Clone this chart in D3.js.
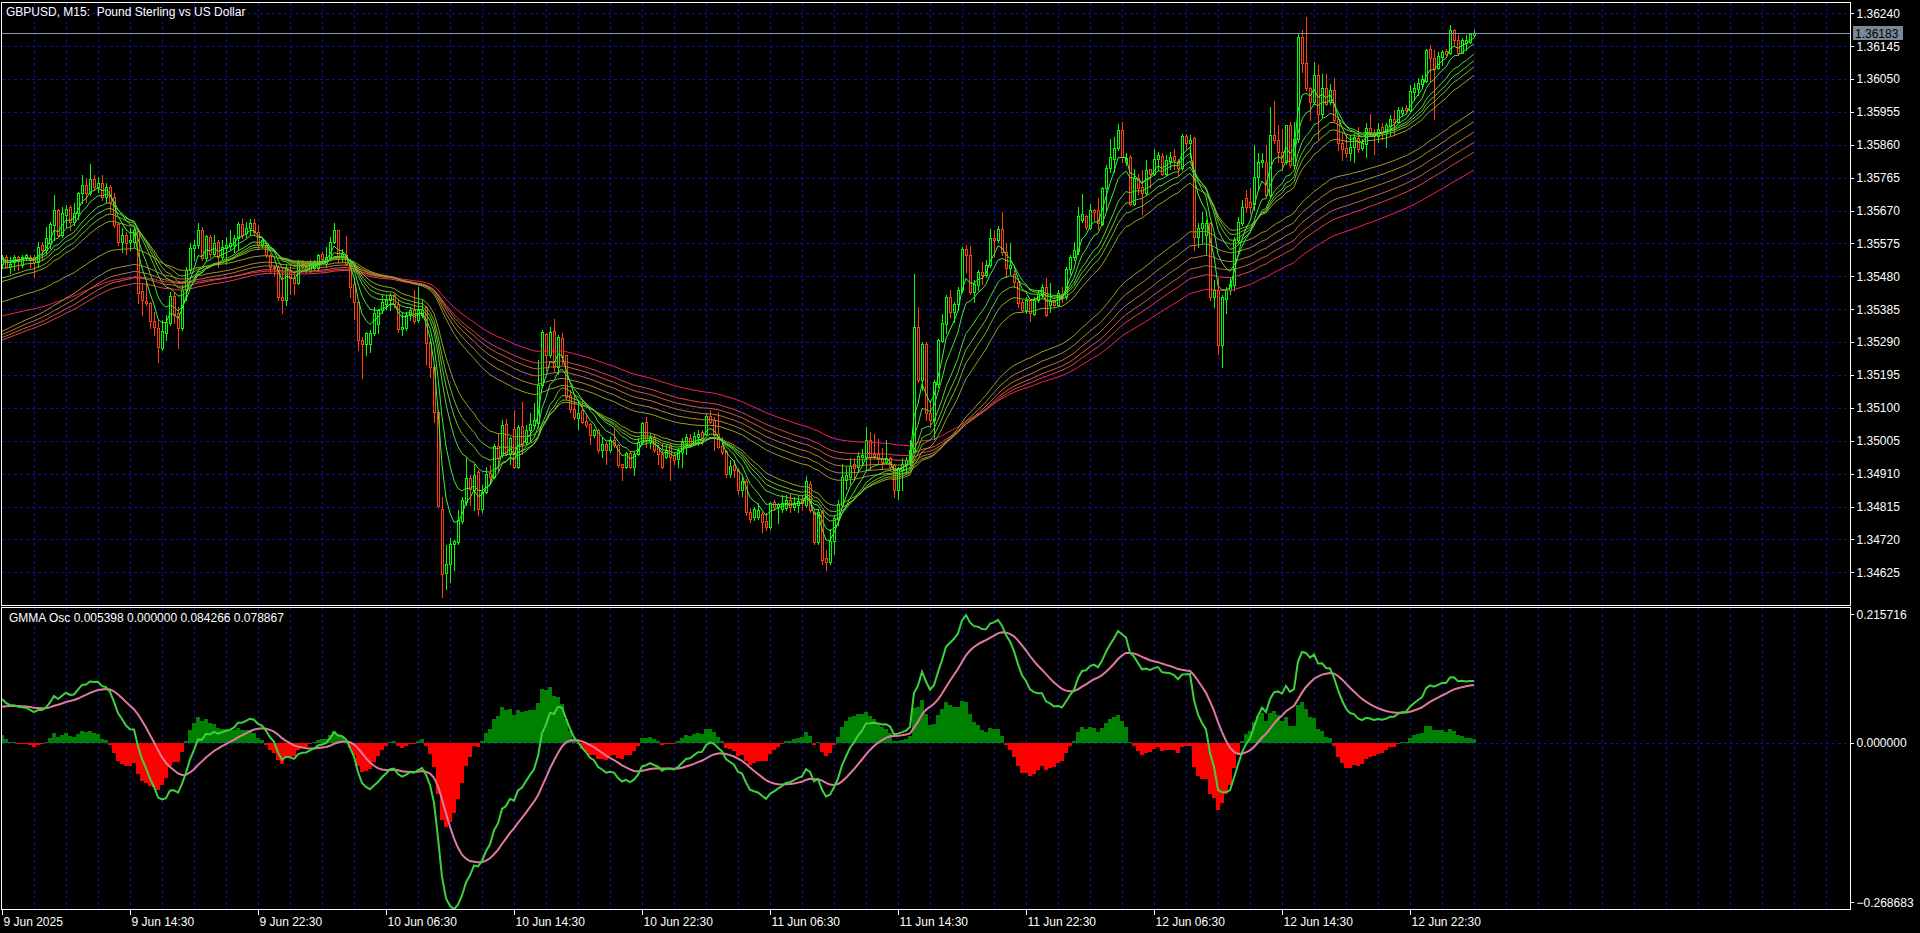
<!DOCTYPE html>
<html><head><meta charset="utf-8">
<script src="https://cdn.jsdelivr.net/npm/d3@7"></script>
<style>html,body{margin:0;padding:0;background:#000;overflow:hidden}svg{display:block}</style>
</head><body><svg id="c" width="1920" height="933"></svg>
<script>
// ---------------- DATA ----------------
const symbolTitle = "GBPUSD, M15:  Pound Sterling vs US Dollar";
const oscName = "GMMA Osc";
const oscLegendValues = [0.005398, 0.000000, 0.084266, 0.078867];
const firstBarTime = "9 Jun 2025 06:30";   // bar 0, 15-minute bars
// [open, high, low, close] per 15-minute bar, bar 0 .. 368
const ohlc = [
/*0*/[1.35515,1.35542,1.35505,1.35537],[1.35537,1.35542,1.35506,1.35508],[1.35510,1.35537,1.35489,1.35517],[1.35522,1.35542,1.35498,1.35537],[1.35537,1.35539,1.35498,1.35527],[1.35513,1.35542,1.35508,1.35537],[1.35532,1.35545,1.35527,1.35542],[1.35537,1.35542,1.35508,1.35527],
/*8*/[1.35537,1.35542,1.35479,1.35522],[1.35522,1.35580,1.35508,1.35564],[1.35570,1.35580,1.35527,1.35556],[1.35556,1.35623,1.35546,1.35590],[1.35575,1.35638,1.35561,1.35631],[1.35628,1.35715,1.35585,1.35673],[1.35673,1.35676,1.35594,1.35599],[1.35599,1.35681,1.35594,1.35662],
/*16*/[1.35657,1.35686,1.35623,1.35676],[1.35681,1.35686,1.35614,1.35638],[1.35638,1.35691,1.35628,1.35662],[1.35662,1.35724,1.35647,1.35720],[1.35720,1.35773,1.35691,1.35744],[1.35744,1.35763,1.35696,1.35722],[1.35720,1.35804,1.35715,1.35760],[1.35760,1.35773,1.35729,1.35739],
/*24*/[1.35739,1.35768,1.35724,1.35751],[1.35751,1.35773,1.35700,1.35710],[1.35710,1.35749,1.35696,1.35737],[1.35737,1.35744,1.35667,1.35696],[1.35710,1.35720,1.35623,1.35628],[1.35631,1.35638,1.35570,1.35580],[1.35580,1.35619,1.35551,1.35599],[1.35599,1.35609,1.35546,1.35575],
/*32*/[1.35580,1.35619,1.35556,1.35585],[1.35580,1.35619,1.35566,1.35614],[1.35612,1.35614,1.35402,1.35433],[1.35438,1.35460,1.35368,1.35412],[1.35410,1.35465,1.35397,1.35402],[1.35402,1.35407,1.35330,1.35352],[1.35350,1.35378,1.35310,1.35335],[1.35330,1.35354,1.35233,1.35275],
/*40*/[1.35272,1.35354,1.35267,1.35322],[1.35317,1.35368,1.35296,1.35349],[1.35344,1.35436,1.35339,1.35423],[1.35423,1.35436,1.35344,1.35368],[1.35373,1.35392,1.35272,1.35332],[1.35332,1.35455,1.35325,1.35440],[1.35440,1.35508,1.35412,1.35498],[1.35498,1.35575,1.35489,1.35561],
/*48*/[1.35561,1.35585,1.35527,1.35570],[1.35570,1.35633,1.35561,1.35614],[1.35614,1.35623,1.35527,1.35532],[1.35532,1.35599,1.35527,1.35596],[1.35594,1.35599,1.35537,1.35546],[1.35546,1.35599,1.35542,1.35575],[1.35580,1.35585,1.35508,1.35537],[1.35537,1.35585,1.35527,1.35566],
/*56*/[1.35561,1.35594,1.35517,1.35570],[1.35568,1.35614,1.35556,1.35575],[1.35570,1.35599,1.35551,1.35590],[1.35590,1.35638,1.35556,1.35631],[1.35631,1.35647,1.35590,1.35599],[1.35604,1.35638,1.35594,1.35619],[1.35619,1.35647,1.35599,1.35633],[1.35633,1.35647,1.35599,1.35609],
/*64*/[1.35609,1.35628,1.35561,1.35570],[1.35570,1.35594,1.35565,1.35584],[1.35570,1.35575,1.35536,1.35541],[1.35541,1.35546,1.35493,1.35507],[1.35507,1.35512,1.35483,1.35503],[1.35507,1.35512,1.35411,1.35421],[1.35421,1.35507,1.35373,1.35413],[1.35413,1.35512,1.35397,1.35500],
/*72*/[1.35498,1.35517,1.35430,1.35474],[1.35474,1.35493,1.35430,1.35461],[1.35461,1.35527,1.35459,1.35520],[1.35522,1.35527,1.35503,1.35507],[1.35507,1.35512,1.35493,1.35498],[1.35496,1.35527,1.35493,1.35517],[1.35503,1.35527,1.35498,1.35522],[1.35503,1.35546,1.35498,1.35541],
/*80*/[1.35546,1.35551,1.35522,1.35529],[1.35515,1.35565,1.35507,1.35536],[1.35534,1.35594,1.35527,1.35580],[1.35580,1.35633,1.35575,1.35613],[1.35613,1.35615,1.35522,1.35536],[1.35536,1.35560,1.35522,1.35546],[1.35541,1.35596,1.35512,1.35517],[1.35517,1.35531,1.35421,1.35450],
/*88*/[1.35459,1.35479,1.35358,1.35406],[1.35406,1.35411,1.35267,1.35296],[1.35296,1.35305,1.35185,1.35284],[1.35284,1.35320,1.35252,1.35315],[1.35286,1.35324,1.35262,1.35317],[1.35317,1.35392,1.35310,1.35373],[1.35342,1.35387,1.35315,1.35382],[1.35382,1.35426,1.35373,1.35406],
/*96*/[1.35401,1.35426,1.35387,1.35411],[1.35411,1.35432,1.35382,1.35426],[1.35426,1.35432,1.35392,1.35401],[1.35401,1.35411,1.35320,1.35329],[1.35329,1.35373,1.35310,1.35334],[1.35331,1.35377,1.35324,1.35368],[1.35368,1.35392,1.35353,1.35382],[1.35382,1.35440,1.35344,1.35351],
/*104*/[1.35353,1.35450,1.35349,1.35382],[1.35368,1.35416,1.35363,1.35382],[1.35392,1.35394,1.35228,1.35288],[1.35291,1.35296,1.35190,1.35217],[1.35219,1.35223,1.35060,1.35088],[1.35088,1.35093,1.34814,1.34816],[1.34809,1.34843,1.34554,1.34621],[1.34623,1.34703,1.34578,1.34650],
/*112*/[1.34650,1.34723,1.34597,1.34708],[1.34708,1.34718,1.34631,1.34716],[1.34713,1.34804,1.34708,1.34776],[1.34774,1.34843,1.34766,1.34833],[1.34829,1.34958,1.34819,1.34896],[1.34898,1.34906,1.34819,1.34867],[1.34862,1.34939,1.34804,1.34906],[1.34915,1.34920,1.34790,1.34809],
/*120*/[1.34809,1.34877,1.34800,1.34857],[1.34857,1.34930,1.34853,1.34908],[1.34912,1.34934,1.34881,1.34901],[1.34901,1.34997,1.34896,1.34989],[1.34989,1.35026,1.34915,1.34954],[1.34963,1.35064,1.34959,1.35050],[1.35053,1.35069,1.34963,1.34968],[1.34966,1.35016,1.34939,1.35012],
/*128*/[1.35040,1.35093,1.34925,1.34930],[1.34930,1.35050,1.34925,1.35045],[1.35047,1.35117,1.34968,1.34997],[1.35002,1.35050,1.34997,1.35037],[1.35036,1.35084,1.35007,1.35053],[1.35050,1.35113,1.35045,1.35064],[1.35055,1.35238,1.35045,1.35166],[1.35166,1.35324,1.35161,1.35320],
/*136*/[1.35313,1.35315,1.35209,1.35252],[1.35252,1.35334,1.35247,1.35320],[1.35323,1.35358,1.35204,1.35219],[1.35219,1.35310,1.35199,1.35305],[1.35303,1.35315,1.35228,1.35247],[1.35252,1.35252,1.35127,1.35132],[1.35137,1.35151,1.35089,1.35098],[1.35098,1.35137,1.35069,1.35074],
/*144*/[1.35072,1.35122,1.35040,1.35084],[1.35093,1.35122,1.35055,1.35060],[1.35063,1.35079,1.35045,1.35050],[1.35053,1.35055,1.34997,1.35021],[1.35021,1.35040,1.35016,1.35036],[1.35036,1.35040,1.34973,1.34978],[1.34978,1.35016,1.34959,1.34995],[1.34997,1.35002,1.34939,1.34978],
/*152*/[1.34978,1.35016,1.34973,1.35007],[1.35007,1.35043,1.34987,1.34992],[1.34992,1.34997,1.34930,1.34934],[1.34937,1.34939,1.34891,1.34930],[1.34930,1.34973,1.34925,1.34970],[1.34970,1.34973,1.34925,1.34930],[1.34930,1.34973,1.34906,1.34968],[1.34968,1.35012,1.34963,1.35002],
/*160*/[1.35002,1.35060,1.34997,1.35055],[1.35060,1.35074,1.34987,1.35007],[1.35002,1.35026,1.34983,1.35016],[1.35016,1.35021,1.34973,1.34978],[1.34987,1.34992,1.34939,1.34968],[1.34968,1.34995,1.34925,1.34930],[1.34959,1.34997,1.34954,1.34978],[1.34994,1.34997,1.34891,1.34959],
/*168*/[1.34963,1.34973,1.34939,1.34949],[1.34951,1.34983,1.34930,1.34978],[1.34973,1.35012,1.34930,1.35002],[1.34997,1.35026,1.34968,1.35016],[1.35012,1.35026,1.34987,1.34992],[1.34995,1.35031,1.34992,1.35018],[1.35016,1.35036,1.34992,1.35026],[1.35031,1.35036,1.34997,1.35007],
/*176*/[1.35026,1.35084,1.35021,1.35076],[1.35076,1.35093,1.35055,1.35060],[1.35064,1.35074,1.34978,1.35021],[1.35026,1.35089,1.34983,1.34987],[1.34989,1.35016,1.34968,1.34973],[1.34976,1.34978,1.34901,1.34910],[1.34910,1.34949,1.34901,1.34932],[1.34934,1.34949,1.34901,1.34920],
/*184*/[1.34920,1.34925,1.34850,1.34862],[1.34862,1.34900,1.34845,1.34888],[1.34888,1.34895,1.34790,1.34800],[1.34800,1.34810,1.34770,1.34780],[1.34785,1.34814,1.34775,1.34809],[1.34785,1.34824,1.34780,1.34804],[1.34793,1.34800,1.34742,1.34771],[1.34772,1.34795,1.34746,1.34756],
/*192*/[1.34756,1.34828,1.34751,1.34826],[1.34828,1.34833,1.34804,1.34814],[1.34814,1.34824,1.34766,1.34821],[1.34809,1.34848,1.34800,1.34824],[1.34812,1.34848,1.34804,1.34835],[1.34835,1.34852,1.34800,1.34814],[1.34814,1.34843,1.34804,1.34826],[1.34819,1.34845,1.34800,1.34831],
/*200*/[1.34833,1.34848,1.34804,1.34824],[1.34819,1.34902,1.34814,1.34889],[1.34880,1.34890,1.34800,1.34804],[1.34800,1.34804,1.34708,1.34713],[1.34713,1.34809,1.34708,1.34800],[1.34802,1.34804,1.34650,1.34660],[1.34665,1.34689,1.34631,1.34655],[1.34655,1.34751,1.34650,1.34716],
/*208*/[1.34716,1.34790,1.34679,1.34783],[1.34780,1.34833,1.34761,1.34822],[1.34819,1.34939,1.34814,1.34901],[1.34891,1.34930,1.34867,1.34905],[1.34901,1.34954,1.34881,1.34931],[1.34937,1.34954,1.34891,1.34925],[1.34930,1.34973,1.34920,1.34960],[1.34958,1.34980,1.34939,1.34963],
/*216*/[1.34958,1.35045,1.34920,1.35007],[1.35007,1.35031,1.34920,1.34958],[1.34968,1.35024,1.34954,1.34960],[1.34966,1.35011,1.34939,1.34951],[1.34954,1.34985,1.34925,1.34944],[1.34944,1.35007,1.34939,1.34956],[1.34954,1.34958,1.34920,1.34930],[1.34934,1.34939,1.34843,1.34862],
/*224*/[1.34862,1.34930,1.34838,1.34925],[1.34920,1.34954,1.34862,1.34939],[1.34934,1.34958,1.34910,1.34949],[1.34947,1.35007,1.34939,1.34978],[1.34976,1.35488,1.34973,1.35334],[1.35334,1.35392,1.35175,1.35180],[1.35180,1.35291,1.35151,1.35286],[1.35286,1.35291,1.35064,1.35084],
/*232*/[1.35084,1.35117,1.35045,1.35064],[1.35064,1.35180,1.35011,1.35175],[1.35170,1.35300,1.35161,1.35295],[1.35293,1.35372,1.35291,1.35344],[1.35342,1.35425,1.35315,1.35419],[1.35419,1.35442,1.35363,1.35377],[1.35377,1.35406,1.35348,1.35401],[1.35399,1.35450,1.35382,1.35442],
/*240*/[1.35440,1.35565,1.35435,1.35560],[1.35560,1.35570,1.35493,1.35541],[1.35541,1.35567,1.35430,1.35435],[1.35435,1.35469,1.35406,1.35457],[1.35454,1.35498,1.35440,1.35492],[1.35492,1.35522,1.35459,1.35483],[1.35483,1.35527,1.35478,1.35514],[1.35512,1.35618,1.35507,1.35592],
/*248*/[1.35592,1.35613,1.35536,1.35584],[1.35584,1.35625,1.35580,1.35618],[1.35618,1.35666,1.35541,1.35551],[1.35551,1.35575,1.35479,1.35503],[1.35503,1.35575,1.35488,1.35512],[1.35488,1.35498,1.35450,1.35464],[1.35464,1.35474,1.35392,1.35403],[1.35406,1.35411,1.35377,1.35384],
/*256*/[1.35384,1.35421,1.35373,1.35413],[1.35413,1.35416,1.35351,1.35373],[1.35371,1.35419,1.35368,1.35413],[1.35413,1.35440,1.35406,1.35430],[1.35425,1.35459,1.35421,1.35450],[1.35450,1.35474,1.35365,1.35368],[1.35397,1.35461,1.35377,1.35409],[1.35409,1.35413,1.35394,1.35397],
/*264*/[1.35397,1.35440,1.35394,1.35432],[1.35430,1.35450,1.35406,1.35421],[1.35421,1.35507,1.35416,1.35500],[1.35500,1.35541,1.35488,1.35536],[1.35536,1.35580,1.35527,1.35556],[1.35554,1.35681,1.35546,1.35654],[1.35642,1.35719,1.35637,1.35660],[1.35654,1.35657,1.35618,1.35623],
/*272*/[1.35621,1.35690,1.35618,1.35671],[1.35673,1.35676,1.35642,1.35666],[1.35671,1.35705,1.35618,1.35633],[1.35631,1.35739,1.35628,1.35734],[1.35734,1.35801,1.35671,1.35794],[1.35794,1.35878,1.35782,1.35825],[1.35820,1.35883,1.35782,1.35852],[1.35852,1.35921,1.35844,1.35902],
/*280*/[1.35902,1.35926,1.35811,1.35825],[1.35811,1.35835,1.35801,1.35823],[1.35825,1.35830,1.35686,1.35690],[1.35690,1.35791,1.35686,1.35763],[1.35763,1.35777,1.35719,1.35734],[1.35737,1.35787,1.35661,1.35721],[1.35721,1.35816,1.35714,1.35787],[1.35789,1.35791,1.35739,1.35777],
/*288*/[1.35777,1.35849,1.35772,1.35820],[1.35818,1.35840,1.35787,1.35830],[1.35827,1.35837,1.35772,1.35777],[1.35777,1.35830,1.35772,1.35816],[1.35814,1.35840,1.35791,1.35825],[1.35827,1.35849,1.35791,1.35816],[1.35814,1.35820,1.35772,1.35794],[1.35794,1.35891,1.35787,1.35885],
/*296*/[1.35885,1.35891,1.35849,1.35864],[1.35864,1.35888,1.35825,1.35875],[1.35881,1.35883,1.35556,1.35594],[1.35594,1.35633,1.35565,1.35621],[1.35621,1.35666,1.35575,1.35635],[1.35599,1.35642,1.35546,1.35633],[1.35633,1.35637,1.35411,1.35421],[1.35421,1.35469,1.35392,1.35440],
/*304*/[1.35440,1.35474,1.35257,1.35281],[1.35281,1.35425,1.35219,1.35419],[1.35416,1.35450,1.35373,1.35440],[1.35440,1.35479,1.35430,1.35459],[1.35454,1.35594,1.35440,1.35584],[1.35584,1.35652,1.35575,1.35637],[1.35633,1.35700,1.35628,1.35681],[1.35705,1.35729,1.35666,1.35681],
/*312*/[1.35695,1.35734,1.35662,1.35681],[1.35690,1.35859,1.35671,1.35768],[1.35768,1.35835,1.35729,1.35811],[1.35811,1.35835,1.35796,1.35816],[1.35811,1.35859,1.35710,1.35715],[1.35715,1.35970,1.35710,1.35888],[1.35888,1.35987,1.35864,1.35873],[1.35873,1.35917,1.35811,1.35840],
/*320*/[1.35840,1.35907,1.35787,1.35811],[1.35811,1.35917,1.35806,1.35917],[1.35917,1.35926,1.35796,1.35801],[1.35801,1.35926,1.35796,1.35878],[1.35878,1.36184,1.35869,1.36172],[1.36172,1.36191,1.36071,1.36095],[1.36095,1.36230,1.36018,1.36023],[1.36023,1.36028,1.35931,1.35984],
/*328*/[1.35984,1.36100,1.35979,1.36061],[1.36061,1.36090,1.35873,1.35949],[1.35949,1.36066,1.35941,1.36023],[1.36023,1.36066,1.35974,1.35979],[1.35984,1.36037,1.35979,1.36018],[1.36018,1.36052,1.35926,1.35931],[1.35936,1.35941,1.35845,1.35864],[1.35866,1.35898,1.35816,1.35849],
/*336*/[1.35852,1.35888,1.35825,1.35837],[1.35837,1.35888,1.35816,1.35854],[1.35854,1.35895,1.35811,1.35883],[1.35880,1.35912,1.35840,1.35849],[1.35852,1.35878,1.35845,1.35866],[1.35862,1.35922,1.35825,1.35910],[1.35910,1.35950,1.35888,1.35891],[1.35893,1.35907,1.35833,1.35885],
/*344*/[1.35885,1.35922,1.35869,1.35907],[1.35912,1.35922,1.35878,1.35898],[1.35898,1.35924,1.35854,1.35917],[1.35914,1.35946,1.35888,1.35936],[1.35936,1.35960,1.35888,1.35926],[1.35926,1.35970,1.35922,1.35962],[1.35952,1.35968,1.35946,1.35962],[1.35965,1.35974,1.35955,1.35960],
/*352*/[1.35960,1.36032,1.35955,1.36016],[1.36013,1.36039,1.35989,1.36023],[1.36020,1.36052,1.36003,1.36039],[1.36035,1.36061,1.36028,1.36049],[1.36045,1.36138,1.36042,1.36135],[1.36138,1.36148,1.36042,1.36112],[1.36112,1.36133,1.35936,1.36080],[1.36083,1.36129,1.36080,1.36116],
/*360*/[1.36114,1.36133,1.36090,1.36129],[1.36132,1.36138,1.36119,1.36122],[1.36124,1.36206,1.36122,1.36191],[1.36191,1.36196,1.36148,1.36162],[1.36162,1.36177,1.36119,1.36126],[1.36126,1.36170,1.36124,1.36164],[1.36153,1.36177,1.36133,1.36162],[1.36158,1.36182,1.36153,1.36180],
/*368*/[1.36177,1.36191,1.36172,1.36183]
];
const timeTickBars = [0,32,64,96,128,160,192,224,256,288,320,352];
const timeTickLabels = ["9 Jun 2025","9 Jun 14:30","9 Jun 22:30","10 Jun 06:30","10 Jun 14:30","10 Jun 22:30","11 Jun 06:30","11 Jun 14:30","11 Jun 22:30","12 Jun 06:30","12 Jun 14:30","12 Jun 22:30"];
const priceTicks = [1.36240,1.36145,1.36050,1.35955,1.35860,1.35765,1.35670,1.35575,1.35480,1.35385,1.35290,1.35195,1.35100,1.35005,1.34910,1.34815,1.34720,1.34625];
const oscTicks = [0.215716, 0.000000, -0.268683];
// chart lines: smoothed moving averages (short group then long group), value just before bar 0
const maPeriods = [3,5,8,10,12,15,30,35,40,45,50,60];
const maSeed    = [1.35525,1.35530,1.35520,1.35500,1.35470,1.35460,1.35402,1.35315,1.35306,1.35298,1.35291,1.35363];
const maColors  = ["#33ff33","#40ea30","#52d82c","#66c828","#78b824","#8aa820","#9a9a22","#aa8a2c","#ba7434","#ca5e3c","#da4444","#ee2250"];
// oscillator: exponential averages of the same periods, value just before bar 0
const oscEmaSeed = [1.35530,1.35530,1.35525,1.35520,1.35515,1.35505,1.35440,1.35430,1.35422,1.35415,1.35410,1.35400];
const signalPeriod = 13;
const signalSeed = 0.058;

// ---------------- LAYOUT ----------------
const W = 1920, H = 933;
const panelL = 1, panelR = 1850;
const mainTop = 2, mainBot = 605;
const oscTop = 607, oscBot = 909;
const gridColor = "#0c0ca8";
const fontFam = "'Liberation Sans', Arial, sans-serif";

const svg = d3.select("#c");
svg.append("rect").attr("width", W).attr("height", H).attr("fill", "#000");

const x = d3.scaleLinear().domain([0, ohlc.length - 1]).range([2, 2 + 4 * (ohlc.length - 1)]);
const y = d3.scaleLinear().domain([1.34625, 1.36240]).range([572.3, 13.3]);
const yo = d3.scaleLinear().domain([oscTicks[2], oscTicks[0]]).range([902.3, 614.3]);

const defs = svg.append("defs");
defs.append("clipPath").attr("id", "clipMain").append("rect")
  .attr("x", panelL + 1).attr("y", mainTop + 1).attr("width", panelR - panelL - 1).attr("height", mainBot - mainTop - 1);
defs.append("clipPath").attr("id", "clipOsc").append("rect")
  .attr("x", panelL + 1).attr("y", oscTop + 1).attr("width", panelR - panelL - 1).attr("height", oscBot - oscTop - 1);

// ---------------- GRID ----------------
const grid = svg.append("g").attr("stroke", gridColor).attr("stroke-width", 1).attr("stroke-dasharray", "3,3").attr("shape-rendering", "crispEdges");
const lastGridBar = Math.floor(x.invert(panelR - 2));
const gridBars = d3.range(8, lastGridBar + 1, 8);
gridBars.forEach(b => {
  const gx = Math.round(x(b)) + 0.5;
  grid.append("line").attr("x1", gx).attr("x2", gx).attr("y1", mainTop + 1).attr("y2", mainBot);
  grid.append("line").attr("x1", gx).attr("x2", gx).attr("y1", oscTop + 1).attr("y2", oscBot);
});
priceTicks.forEach(p => {
  const gy = Math.round(y(p)) + 0.5;
  grid.append("line").attr("x1", panelL + 1).attr("x2", panelR).attr("y1", gy).attr("y2", gy);
});
{
  const gy = Math.round(yo(0)) + 0.5;
  grid.append("line").attr("x1", panelL + 1).attr("x2", panelR).attr("y1", gy).attr("y2", gy);
}

// ---------------- INDICATORS ----------------
const closes = ohlc.map(d => d[3]);
const maSeries = maPeriods.map((n, j) => {
  let s = maSeed[j];
  return closes.map(c => (s = (s * (n - 1) + c) / n));
});
const emaSeries = maPeriods.map((n, j) => {
  let e = oscEmaSeed[j];
  const a = 2 / (n + 1);
  return closes.map(c => (e = e + a * (c - e)));
});
const osc = closes.map((c, i) => {
  const sh = d3.mean(emaSeries.slice(0, 6), s => s[i]);
  const lg = d3.mean(emaSeries.slice(6), s => s[i]);
  return (sh - lg) / lg * 100;
});
let sg = signalSeed;
const alpha = 2 / (signalPeriod + 1);
const signal = osc.map(v => (sg = sg + alpha * (v - sg)));
const hist = osc.map((v, i) => v - signal[i]);

// ---------------- MAIN PANEL ----------------
const main = svg.append("g").attr("clip-path", "url(#clipMain)");
const bullC = "#00ff00", bearC = "#ff4010";
const cg = main.append("g").attr("shape-rendering", "crispEdges");
ohlc.forEach((d, i) => {
  const [o, h, l, c] = d;
  const col = c >= o ? bullC : bearC;
  const cx = Math.round(x(i));
  const yh = Math.round(y(Math.max(h, o, c))), yl = Math.round(y(Math.min(l, o, c)));
  const yt = Math.round(y(Math.max(o, c))), yb = Math.round(y(Math.min(o, c)));
  cg.append("rect").attr("x", cx).attr("y", yh).attr("width", 1).attr("height", Math.max(1, yl - yh + 1)).attr("fill", col);
  const bh = Math.max(1, yb - yt + 1);
  cg.append("rect").attr("x", cx - 1).attr("y", yt).attr("width", 3).attr("height", bh).attr("fill", col);
  if (bh > 2) cg.append("rect").attr("x", cx).attr("y", yt + 1).attr("width", 1).attr("height", bh - 2).attr("fill", "#000");
});
const lineGen = d3.line().x((v, i) => x(i)).y(v => y(v));
for (let j = maSeries.length - 1; j >= 0; j--) {
  main.append("path").attr("d", lineGen(maSeries[j])).attr("fill", "none")
    .attr("stroke", maColors[j]).attr("stroke-width", 1);
}
const lastClose = closes[closes.length - 1];
svg.append("line").attr("x1", panelL + 1).attr("x2", panelR).attr("y1", Math.round(y(lastClose)) + 0.5).attr("y2", Math.round(y(lastClose)) + 0.5)
  .attr("stroke", "#8797a8").attr("stroke-width", 1).attr("shape-rendering", "crispEdges");

// ---------------- OSC PANEL ----------------
const og = svg.append("g").attr("clip-path", "url(#clipOsc)");
const hg = og.append("g").attr("shape-rendering", "crispEdges");
hist.forEach((v, i) => {
  const y0 = yo(0), y1 = yo(v);
  hg.append("rect").attr("x", Math.round(x(i)) - 2).attr("width", 4)
    .attr("y", Math.min(y0, y1)).attr("height", Math.max(1, Math.abs(y1 - y0)))
    .attr("fill", v >= 0 ? "#008000" : "#ff0000");
});
const oscLine = d3.line().x((v, i) => x(i)).y(v => yo(v));
og.append("path").attr("d", oscLine(signal)).attr("fill", "none").attr("stroke", "#e07a9c").attr("stroke-width", 2);
og.append("path").attr("d", oscLine(osc)).attr("fill", "none").attr("stroke", "#3cd23c").attr("stroke-width", 2);

// ---------------- FRAMES ----------------
const fr = svg.append("g").attr("fill", "none").attr("stroke", "#fff").attr("stroke-width", 1).attr("shape-rendering", "crispEdges");
fr.append("rect").attr("x", panelL + 0.5).attr("y", mainTop + 0.5).attr("width", panelR - panelL).attr("height", mainBot - mainTop);
fr.append("rect").attr("x", panelL + 0.5).attr("y", oscTop + 0.5).attr("width", panelR - panelL).attr("height", oscBot - oscTop);

// ---------------- AXES ----------------
const fmt5 = d3.format(".5f"), fmt6 = d3.format(".6f");
const ay = svg.append("g").attr("transform", `translate(${panelR + 0.5},0)`)
  .call(d3.axisRight(y).tickValues(priceTicks).tickFormat(fmt5).tickSize(3).tickPadding(3));
const ayo = svg.append("g").attr("transform", `translate(${panelR + 0.5},0)`)
  .call(d3.axisRight(yo).tickValues(oscTicks).tickFormat(fmt6).tickSize(3).tickPadding(3));
const ax = svg.append("g").attr("transform", `translate(0,${oscBot + 0.5})`)
  .call(d3.axisBottom(x).tickValues(timeTickBars).tickFormat((d, i) => timeTickLabels[i]).tickSize(5).tickPadding(3));
[ay, ayo, ax].forEach(a => {
  a.select(".domain").remove();
  a.selectAll(".tick line").attr("stroke", "#fff").attr("shape-rendering", "crispEdges");
  a.selectAll(".tick text").attr("fill", "#fff").attr("font-family", fontFam).attr("font-size", 12);
});
ax.selectAll(".tick text").attr("text-anchor", "start").attr("dx", 1);

const py = y(lastClose);
svg.append("rect").attr("x", panelR + 3).attr("y", Math.round(py) - 7).attr("width", 50).attr("height", 14).attr("fill", "#778899");
svg.append("text").attr("x", panelR + 5).attr("y", Math.round(py) + 4.5).attr("fill", "#000")
  .attr("font-family", fontFam).attr("font-size", 12).text(fmt5(lastClose));

// ---------------- TITLES ----------------
svg.append("text").attr("x", 6).attr("y", 16).attr("fill", "#fff").attr("font-family", fontFam).attr("font-size", 12)
  .attr("xml:space", "preserve").style("white-space", "pre").text(symbolTitle);
svg.append("text").attr("x", 9).attr("y", 622).attr("fill", "#fff").attr("font-family", fontFam).attr("font-size", 12)
  .text(oscName + " " + oscLegendValues.map(fmt6).join(" "));
</script>
</body></html>
